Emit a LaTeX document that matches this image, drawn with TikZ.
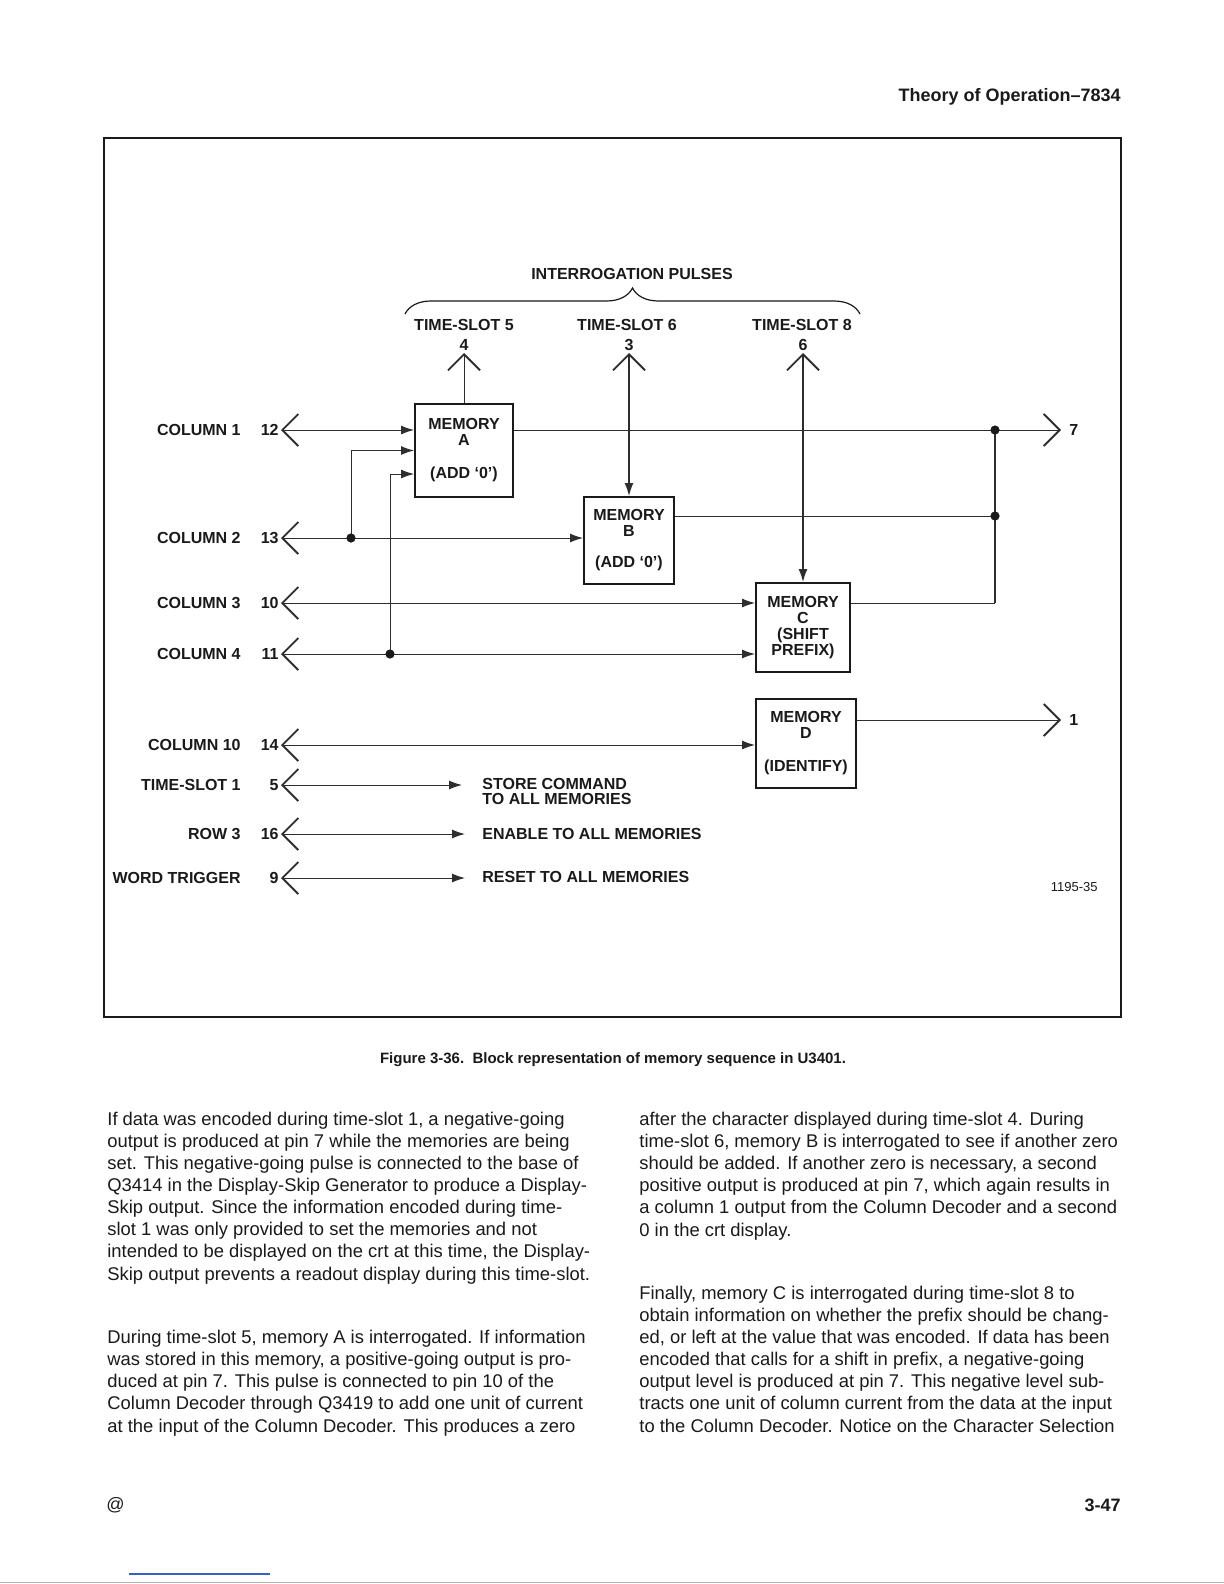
\documentclass[tikz,border=0pt]{standalone}
\usepackage{fontspec}
\setmainfont{Liberation Sans}
\usetikzlibrary{arrows.meta,calc,decorations.pathreplacing}
\definecolor{ink}{HTML}{1A1A1A}
\definecolor{wiregray}{HTML}{2E2E2E}
\definecolor{scanblue}{HTML}{3A5FCD}
\definecolor{edgegray}{HTML}{B4B4B4}

\tikzset{
  chev/.tip={Straight Barb[length=8pt,width=16pt,line width=0.9pt]},
  blob/.tip={Latex[length=6.5pt,width=4.5pt]}
}

\begin{document}
\begin{tikzpicture}[x=0.5pt, y=-0.5pt]

  % Set default styles
  \tikzset{
    every node/.style={text=ink},
    lbl/.style={font=\fontsize{8}{8}\selectfont\bfseries, inner sep=1pt},
    pinnum/.style={lbl},
    pinout/.style={lbl, anchor=west, inner xsep=4pt},
    memory/.style={draw=ink, line width=1pt, inner sep=0pt, align=center,
      font=\fontsize{8}{8}\selectfont\bfseries},
    wire/.style={draw=wiregray, line width=0.5pt},
    dot/.style={circle, fill=ink, inner sep=0pt, minimum size=4.6pt},
    bodytext/.style={anchor=base west, align=left, inner sep=0pt,
      font=\fontsize{9.2}{11.05}\selectfont}
  }

  % Page
  \fill[white] (0,0) rectangle (1224,1584);
  \useasboundingbox (0,0) rectangle (1224,1584);

  % Running head
  \node[anchor=east, inner sep=0pt, font=\fontsize{9}{9}\selectfont\bfseries]
    (header) at (1121,97) {Theory of Operation--7834};

  % Figure frame
  \draw[ink, line width=0.6pt] (104,138) rectangle (1121,1017);

  % Interrogation pulses
  \node[lbl] (pulses) at (632,274) {INTERROGATION PULSES};
  \coordinate (braceL) at (405,314);
  \coordinate (braceR) at (860,314);
  \draw[ink, line width=0.6pt, decorate, decoration={brace, amplitude=13pt}]
    (braceL) -- (braceR);

  \node[lbl] (ts5) at (464,325) {TIME-SLOT 5};
  \node[lbl] (ts6) at (627,325) {TIME-SLOT 6};
  \node[lbl] (ts8) at (802,325) {TIME-SLOT 8};

  \node[pinnum, anchor=south] (n4) at (464,353) {4};
  \node[pinnum, anchor=south] (n3) at (629,353) {3};
  \node[pinnum, anchor=south] (n6) at (803,353) {6};

  % Memories
  \node[memory, minimum width=49pt, minimum height=46.5pt] (memA) at (464,450.5)
    {MEMORY\\A\\[8.5pt](ADD `0')};
  \node[memory, minimum width=45pt, minimum height=43.5pt] (memB) at (629,540.5)
    {MEMORY\\B\\[7.5pt](ADD `0')};
  \node[memory, minimum width=47pt, minimum height=44.5pt] (memC) at (803,627.5)
    {MEMORY\\C\\(SHIFT\\PREFIX)};
  \node[memory, minimum width=50pt, minimum height=44.5pt] (memD) at (806,743.5)
    {MEMORY\\D\\[8.5pt](IDENTIFY)};

  % Input pins
  \node[lbl, anchor=east] (lc1) at (243,430) {COLUMN 1};
  \node[lbl, anchor=east] (lc2) at (243,538) {COLUMN 2};
  \node[lbl, anchor=east] (lc3) at (243,603) {COLUMN 3};
  \node[lbl, anchor=east] (lc4) at (243,654) {COLUMN 4};
  \node[lbl, anchor=east] (lc10) at (243,745) {COLUMN 10};
  \node[lbl, anchor=east] (lts1) at (243,785) {TIME-SLOT 1};
  \node[lbl, anchor=east] (lrow3) at (243,834) {ROW 3};
  \node[lbl, anchor=east] (lwt) at (243,878) {WORD TRIGGER};

  \node[pinnum, anchor=east] (p12) at (281,430) {12};
  \node[pinnum, anchor=east] (p13) at (281,538) {13};
  \node[pinnum, anchor=east] (p10) at (281,603) {10};
  \node[pinnum, anchor=east] (p11) at (281,654) {11};
  \node[pinnum, anchor=east] (p14) at (281,745) {14};
  \node[pinnum, anchor=east] (p5) at (281,785) {5};
  \node[pinnum, anchor=east] (p16) at (281,834) {16};
  \node[pinnum, anchor=east] (p9) at (281,878) {9};

  % Output pins
  \node[pinout] (p7) at (1061,430) {7};
  \node[pinout] (p1) at (1061,720) {1};

  % Junctions
  \coordinate (jA2) at (351,538);
  \coordinate (jA3) at (390,654);
  \coordinate (inA3) at ($(memA.west)+(0,23.5)$);
  \coordinate (jR1) at (995,430);
  \coordinate (jR2) at (995,516);
  \coordinate (cR) at (995,603);

  % Column wires
  \draw[wire, chev-blob] (p12.east) -- (memA.west |- p12.east);
  \draw[wire, chev-blob] (p13.east) -- (memB.west |- p13.east);
  \draw[wire, chev-blob] (p10.east) -- (memC.west |- p10.east);
  \draw[wire, chev-blob] (p11.east) -- (memC.west |- p11.east);
  \draw[wire, chev-blob] (p14.east) -- (memD.west |- p14.east);
  \draw[wire, -blob] (jA2) |- (memA.west);
  \draw[wire, -blob] (jA3) |- (inA3);

  % Interrogation wires
  \draw[wire, chev-] (n4.south) -- (memA.north);
  \draw[wire, line width=0.7pt, chev-blob] (n3.south) -- (memB.north);
  \draw[wire, line width=0.7pt, chev-blob] (n6.south) -- (memC.north);

  % Output wires
  \draw[wire, -chev] (memA.east |- p7.west) -- (p7.west);
  \draw[wire] (memB.east |- jR2) -- (jR2);
  \draw[wire] (memC.east |- cR) -- (cR);
  \draw[wire, line width=1pt] (cR) -- (jR1);
  \draw[wire, -chev] (memD.east |- p1.west) -- (p1.west);

  \node[dot] at (jA2) {};
  \node[dot] at (jA3) {};
  \node[dot] at (jR1) {};
  \node[dot] at (jR2) {};

  % Commands to all memories
  \coordinate (stoE) at (462,785);
  \coordinate (enaE) at (465,834);
  \coordinate (rstE) at (465,878);
  \draw[wire, chev-blob] (p5.east) -- (stoE);
  \draw[wire, chev-blob] (p16.east) -- (enaE);
  \draw[wire, chev-blob] (p9.east) -- (rstE);
  \node[lbl, anchor=west, align=left, font=\fontsize{8}{7.5}\selectfont\bfseries]
    (sto) at (480,791) {STORE COMMAND\\TO ALL MEMORIES};
  \node[lbl, anchor=west] (ena) at (480,834) {ENABLE TO ALL MEMORIES};
  \node[lbl, anchor=west] (rst) at (480,877) {RESET TO ALL MEMORIES};

  \node[anchor=east, inner sep=0pt, font=\fontsize{6.5}{6.5}\selectfont]
    (figno) at (1098,887) {1195-35};

  % Caption
  \node[inner sep=0pt, font=\fontsize{7.5}{7.5}\selectfont\bfseries]
    (caption) at (613,1060) {Figure 3-36.\ \ Block representation of memory sequence in U3401.};

  % Body text, left column (base = last line)
  \node[bodytext] (col1a) at (107,1280) {If data was encoded during time-slot 1, a negative-going\\
    output is produced at pin 7 while the memories are being\\
    set. This negative-going pulse is connected to the base of\\
    Q3414 in the Display-Skip Generator to produce a Display-\\
    Skip output. Since the information encoded during time-\\
    slot 1 was only provided to set the memories and not\\
    intended to be displayed on the crt at this time, the Display-\\
    Skip output prevents a readout display during this time-slot.};

  \node[bodytext] (col1b) at (107,1432) {During time-slot 5, memory A is interrogated. If information\\
    was stored in this memory, a positive-going output is pro-\\
    duced at pin 7. This pulse is connected to pin 10 of the\\
    Column Decoder through Q3419 to add one unit of current\\
    at the input of the Column Decoder. This produces a zero};

  % Body text, right column
  \node[bodytext] (col2a) at (639,1236) {after the character displayed during time-slot 4. During\\
    time-slot 6, memory B is interrogated to see if another zero\\
    should be added. If another zero is necessary, a second\\
    positive output is produced at pin 7, which again results in\\
    a column 1 output from the Column Decoder and a second\\
    0 in the crt display.};

  \node[bodytext] (col2b) at (639,1432) {Finally, memory C is interrogated during time-slot 8 to\\
    obtain information on whether the prefix should be chang-\\
    ed, or left at the value that was encoded. If data has been\\
    encoded that calls for a shift in prefix, a negative-going\\
    output level is produced at pin 7. This negative level sub-\\
    tracts one unit of column current from the data at the input\\
    to the Column Decoder. Notice on the Character Selection};

  % Footer
  \node[anchor=west, inner sep=0pt, font=\fontsize{9}{9}\selectfont] (logo) at (106,1505) {@};
  \node[anchor=east, inner sep=0pt, font=\fontsize{9}{9}\selectfont\bfseries] (pageno) at (1121,1505) {3-47};

  % Scan edge
  \draw[scanblue, line width=0.8pt] (129,1574) -- (270,1574);
  \draw[edgegray, line width=0.5pt] (0,1582) -- (1224,1582);

\end{tikzpicture}
\end{document}
